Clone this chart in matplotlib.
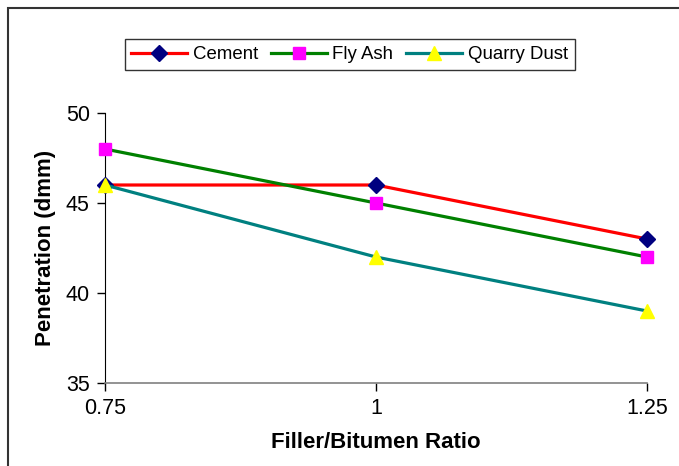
import matplotlib.pyplot as plt
from matplotlib.patches import Rectangle

plt.rcParams['font.family'] = ['Liberation Sans', 'DejaVu Sans']

ratio = [0.75, 1, 1.25]
cement = [46, 46, 43]
fly_ash = [48, 45, 42]
quarry_dust = [46, 42, 39]
y_ticks = [35, 40, 45, 50]

fig = plt.figure(figsize=(6.79, 4.66), dpi=100)
ax = fig.add_axes([0.1546, 0.1781, 0.7983, 0.5794])

ax.plot(ratio, cement, color='#ff0000', lw=2.3, marker='D', ms=8,
        mfc='#000080', mec='#000080', label='Cement', clip_on=False, zorder=3)
ax.plot(ratio, fly_ash, color='#008000', lw=2.3, marker='s', ms=8,
        mfc='#ff00ff', mec='#ff00ff', label='Fly Ash', clip_on=False, zorder=3)
ax.plot(ratio, quarry_dust, color='#008080', lw=2.3, marker='^', ms=10,
        mfc='#ffff00', mec='#ffff00', label='Quarry Dust', clip_on=False, zorder=3)

ax.set_xlim(0.75, 1.25)
ax.set_ylim(35, 50)
ax.set_xticks(ratio)
ax.set_xticklabels(['0.75', '1', '1.25'])
ax.set_yticks(y_ticks)
ax.tick_params(labelsize=15.5, length=6, width=1, direction='out', pad=5)

ax.spines['top'].set_visible(False)
ax.spines['right'].set_visible(False)
ax.spines['left'].set_color('black')
ax.spines['bottom'].set_color('#808080')
ax.spines['bottom'].set_linewidth(1.2)

ax.set_xlabel('Filler/Bitumen Ratio', fontsize=16, fontweight='bold', labelpad=9)
ax.set_ylabel('Penetration (dmm)', fontsize=16, fontweight='bold', labelpad=7)

leg = fig.legend(loc='center', bbox_to_anchor=(0.515, 0.883), ncol=3,
                 fontsize=13.4, frameon=True, fancybox=False, edgecolor='black',
                 handlelength=3.0, columnspacing=0.7, handletextpad=0.3,
                 borderpad=0.35, borderaxespad=0.3)
leg.get_frame().set_linewidth(1)

# outer frame around the chart area
fig.patches.append(Rectangle((8 / 679, -0.1), 1.2, 1 - 8 / 466 + 0.1,
                             transform=fig.transFigure, fill=False,
                             edgecolor='#333333', lw=1.5))

fig.savefig('out.png', dpi=100)
